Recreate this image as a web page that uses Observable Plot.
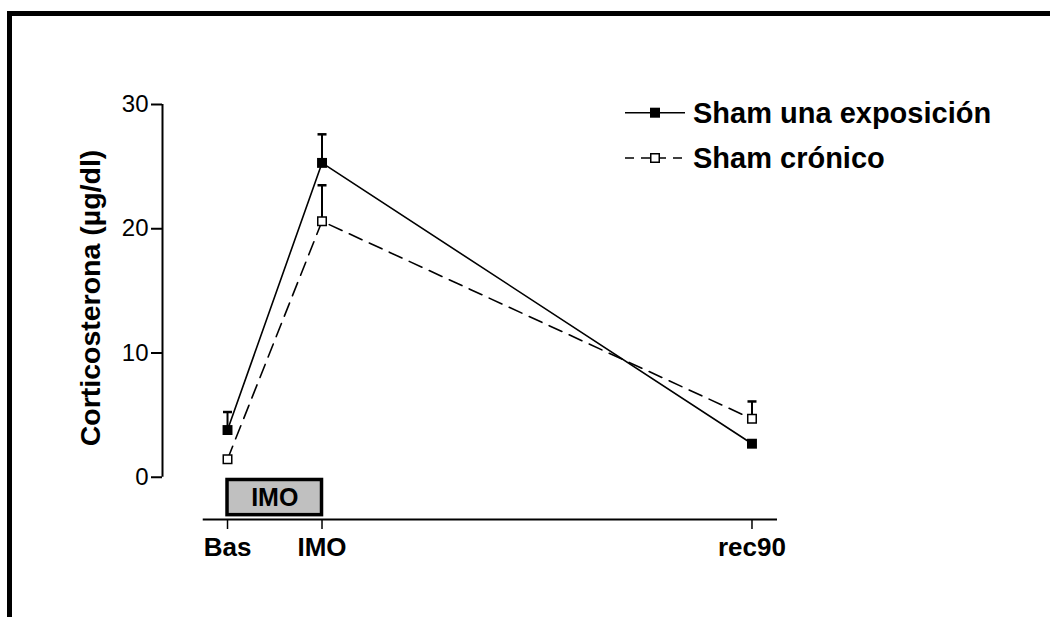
<!DOCTYPE html>
<html>
<head>
<meta charset="utf-8">
<script src="https://cdn.jsdelivr.net/npm/d3@7"></script>
<script src="https://cdn.jsdelivr.net/npm/@observablehq/plot@0.6"></script>
<style>
  html, body { margin: 0; padding: 0; background: #fff; }
  #wrap { position: relative; width: 1050px; height: 617px; overflow: hidden; }
  #border { position: absolute; left: 7px; top: 11px; width: 1100px; height: 700px;
            border-top: 5px solid #000; border-left: 5px solid #000; box-sizing: border-box; pointer-events: none; }
  svg { font-family: "Liberation Sans", Arial, Helvetica, sans-serif; }
</style>
</head>
<body>
<div id="wrap"><div id="border"></div></div>
<script>
// ---- data ----
const groups = ["Bas", "IMO", "rec90"];
const timeMin = [0, 20, 111];              // sampling times (min)
const shamUna = [3.8, 25.3, 2.7];          // Sham una exposición (mean)
const shamUnaSem = [1.45, 2.3, 0];         // SEM
const shamCronico = [1.45, 20.6, 4.7];     // Sham crónico (mean)
const shamCronicoSem = [0, 2.9, 1.4];      // SEM
const yTicks = [0, 10, 20, 30];
const imoPeriod = [0, 20];                 // immobilization period (min)
const imoBoxY = [-3.05, -0.22];
const seriesNames = ["Sham una exposición", "Sham crónico"];
const yLabel = "Corticosterona (µg/dl)";

const una = timeMin.map((t, i) => ({t, v: shamUna[i], sem: shamUnaSem[i]}));
const cron = timeMin.map((t, i) => ({t, v: shamCronico[i], sem: shamCronicoSem[i]}));

const capSymbol = {
  draw(context, size) {
    const r = Math.sqrt(size / Math.PI);
    context.moveTo(-r, 0);
    context.lineTo(r, 0);
  }
};

const font = "Liberation Sans, Arial, Helvetica, sans-serif";

const svg = Plot.plot({
  width: 1050,
  height: 617,
  marginLeft: 162,
  marginRight: 273,
  marginTop: 104,
  marginBottom: 98,
  style: {fontFamily: font, background: "transparent", overflow: "visible"},
  x: {domain: [-13.76, 116.4]},
  y: {domain: [-3.4, 30]},
  marks: [
    // IMO period box
    Plot.rect([{x1: imoPeriod[0], x2: imoPeriod[1], y1: imoBoxY[0], y2: imoBoxY[1]}],
      {x1: "x1", x2: "x2", y1: "y1", y2: "y2", fill: "#c0c0c0", stroke: "black", strokeWidth: 3.5}),
    Plot.text(["IMO"], {x: (imoPeriod[0] + imoPeriod[1]) / 2, y: (imoBoxY[0] + imoBoxY[1]) / 2,
      fontSize: 25, fontWeight: "bold", fill: "black"}),
    // axes lines
    Plot.ruleX([-13.76], {y1: 0, y2: 30, stroke: "black", strokeWidth: 2}),
    Plot.ruleY([-3.4], {x1: -5.14, x2: 116.4, stroke: "black", strokeWidth: 2}),
    Plot.axisY({ticks: yTicks, tickSize: 11, tickPadding: 3, fontSize: 24, label: null, strokeWidth: 2}),
    Plot.axisX({ticks: timeMin, tickFormat: d => groups[timeMin.indexOf(d)], tickSize: 10, tickPadding: 8,
      fontSize: 26, fontWeight: "bold", label: null, strokeWidth: 1.5}),
    Plot.text([yLabel], {frameAnchor: "left", textAnchor: "middle", lineAnchor: "middle", rotate: -90, dx: -72, dy: -14,
      fontSize: 28.5, fontWeight: "bold", fill: "black"}),
    // lines
    Plot.line(una, {x: "t", y: "v", stroke: "black", strokeWidth: 1.6}),
    Plot.line(cron, {x: "t", y: "v", stroke: "black", strokeWidth: 1.6, strokeDasharray: "14,8"}),
    // error bars
    Plot.ruleX(una.filter(d => d.sem > 0), {x: "t", y1: "v", y2: d => d.v + d.sem, stroke: "black", strokeWidth: 2}),
    Plot.ruleX(cron.filter(d => d.sem > 0), {x: "t", y1: "v", y2: d => d.v + d.sem, stroke: "black", strokeWidth: 2}),
    Plot.dot(una.filter(d => d.sem > 0), {x: "t", y: d => d.v + d.sem, symbol: capSymbol, r: 4.5, fill: "none", stroke: "black", strokeWidth: 2.5}),
    Plot.dot(cron.filter(d => d.sem > 0), {x: "t", y: d => d.v + d.sem, symbol: capSymbol, r: 4.5, fill: "none", stroke: "black", strokeWidth: 2.5}),
    // points
    Plot.dot(una, {x: "t", y: "v", symbol: "square", r: 5.6, fill: "black", stroke: "none"}),
    Plot.dot(cron, {x: "t", y: "v", symbol: "square", r: 4.8, fill: "white", stroke: "black", strokeWidth: 1.5})
  ]
});

// legend
const lg = d3.select(svg).append("g").attr("font-family", font).attr("text-anchor", "start");
const legendItems = [
  {label: seriesNames[0], dash: null, fill: "black", side: 10, y: 112.7},
  {label: seriesNames[1], dash: "9,7", fill: "white", side: 8.5, y: 158}
];
legendItems.forEach(it => {
  const g = lg.append("g");
  g.append("line").attr("x1", 625).attr("x2", 685).attr("y1", it.y).attr("y2", it.y)
    .attr("stroke", "black").attr("stroke-width", 1.6).attr("stroke-dasharray", it.dash);
  g.append("rect").attr("x", 655 - it.side / 2).attr("y", it.y - it.side / 2)
    .attr("width", it.side).attr("height", it.side)
    .attr("fill", it.fill).attr("stroke", "black").attr("stroke-width", it.fill === "white" ? 1.5 : 0);
  g.append("text").attr("x", 693).attr("y", it.y + 0.36 * 29).attr("font-size", 29)
    .attr("text-anchor", "start")
    .attr("font-weight", "bold").attr("fill", "black").text(it.label);
});

svg.style.position = "absolute";
svg.style.left = "0px";
svg.style.top = "0px";
document.getElementById("wrap").prepend(svg);
</script>
</body>
</html>
